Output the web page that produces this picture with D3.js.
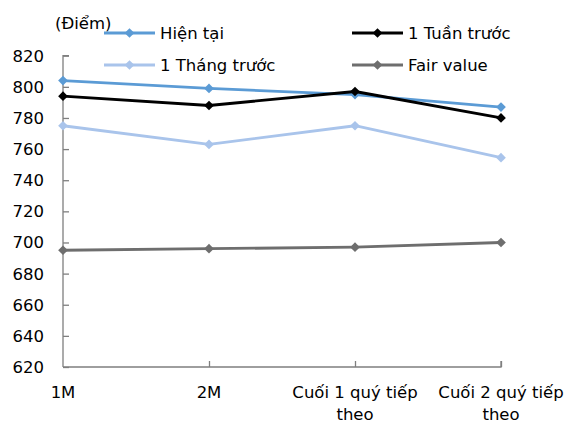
<!DOCTYPE html>
<html><head><meta charset="utf-8">
<script src="https://cdn.jsdelivr.net/npm/d3@7"></script>
<style>
body{margin:0;background:#fff;}
text{font-family:"DejaVu Sans",sans-serif;font-size:16.5px;fill:#000;}
</style></head>
<body>
<svg id="chart" width="574" height="428"></svg>
<script>
const categories = ["1M", "2M", "Cuối 1 quý tiếp theo", "Cuối 2 quý tiếp theo"];
const categoryLines = [["1M"], ["2M"], ["Cuối 1 quý tiếp", "theo"], ["Cuối 2 quý tiếp", "theo"]];
const hienTai = [804, 799, 795, 787];
const tuanTruoc = [794, 788, 797, 780];
const thangTruoc = [775, 763, 775, 754.5];
const fairValue = [695, 696, 697, 700];
const yTicks = [620, 640, 660, 680, 700, 720, 740, 760, 780, 800, 820];
const unitLabel = "(Điểm)";

const series = [
  {name: "Hiện tại", values: hienTai, color: "#5B9BD5"},
  {name: "1 Tuần trước", values: tuanTruoc, color: "#000000"},
  {name: "1 Tháng trước", values: thangTruoc, color: "#A9C4EB"},
  {name: "Fair value", values: fairValue, color: "#6E6E6E"}
];

const svg = d3.select("#chart");
const x = d3.scalePoint().domain(categories).range([63, 501]).padding(0);
const y = d3.scaleLinear().domain([620, 820]).range([367, 55.7]);
const axisColor = "#7f7f7f";

// Y axis
const yAxis = svg.append("g").attr("transform", "translate(63,0)")
  .call(d3.axisRight(y).tickValues(yTicks).tickSize(6).tickFormat(""));
yAxis.select(".domain").attr("stroke", axisColor).attr("stroke-width", 1.3).attr("d", `M6,${y(820)}H0V${y(620)}`);
yAxis.selectAll(".tick line").attr("stroke", axisColor).attr("stroke-width", 1.3);
svg.append("g").selectAll("text").data(yTicks).join("text")
  .attr("x", 44).attr("y", d => y(d)).attr("dy", "0.36em")
  .attr("text-anchor", "end").text(d => d);

// X axis
const xAxis = svg.append("g").attr("transform", `translate(0,${y(620)})`)
  .call(d3.axisTop(x).tickSize(6).tickFormat(""));
xAxis.select(".domain").attr("stroke", axisColor).attr("stroke-width", 1.3).attr("d", `M${x(categories[0])},0H${x(categories[3])}V-6`);
xAxis.selectAll(".tick line").attr("stroke", axisColor).attr("stroke-width", 1.3);
xAxis.selectAll(".tick").filter((d,i)=>i===0).select("line").remove();
const xl = svg.append("g").selectAll("text").data(categories).join("text")
  .attr("text-anchor", "middle")
  .attr("x", d => x(d)).attr("y", 398);
xl.each(function(d, i){
  const t = d3.select(this);
  categoryLines[i].forEach((ln, j) => {
    t.append("tspan").attr("x", x(d)).attr("dy", j === 0 ? 0 : 21.5).text(ln);
  });
});

// Lines
const line = d3.line().x((d,i)=>x(categories[i])).y(d=>y(d));
const diamond = d3.symbol().type(d3.symbolDiamond2).size(60);
const drawOrder = [3, 2, 0, 1];
drawOrder.forEach(k => {
  const s = series[k];
  svg.append("path").datum(s.values).attr("d", line)
    .attr("fill", "none").attr("stroke", s.color).attr("stroke-width", 2.8).attr("stroke-linejoin","round");
  svg.append("g").selectAll("path").data(s.values).join("path")
    .attr("d", diamond).attr("fill", s.color)
    .attr("transform", (d,i)=>`translate(${x(categories[i])},${y(d)})`);
});

// unit label
svg.append("text").attr("x", 55).attr("y", 29).text(unitLabel);

// Legend
const legendPos = [
  {lx: 104, ly: 33}, {lx: 352, ly: 33}, {lx: 104, ly: 65}, {lx: 352, ly: 65}
];
series.forEach((s, i) => {
  const p = legendPos[i];
  const g = svg.append("g");
  g.append("line").attr("x1", p.lx).attr("x2", p.lx + 51).attr("y1", p.ly).attr("y2", p.ly)
    .attr("stroke", s.color).attr("stroke-width", 2.8);
  g.append("path").attr("d", diamond).attr("fill", s.color)
    .attr("transform", `translate(${p.lx + 25.5},${p.ly})`);
  g.append("text").attr("x", p.lx + 56).attr("y", p.ly).attr("dy", "0.36em").text(s.name);
});
</script>
</body></html>
